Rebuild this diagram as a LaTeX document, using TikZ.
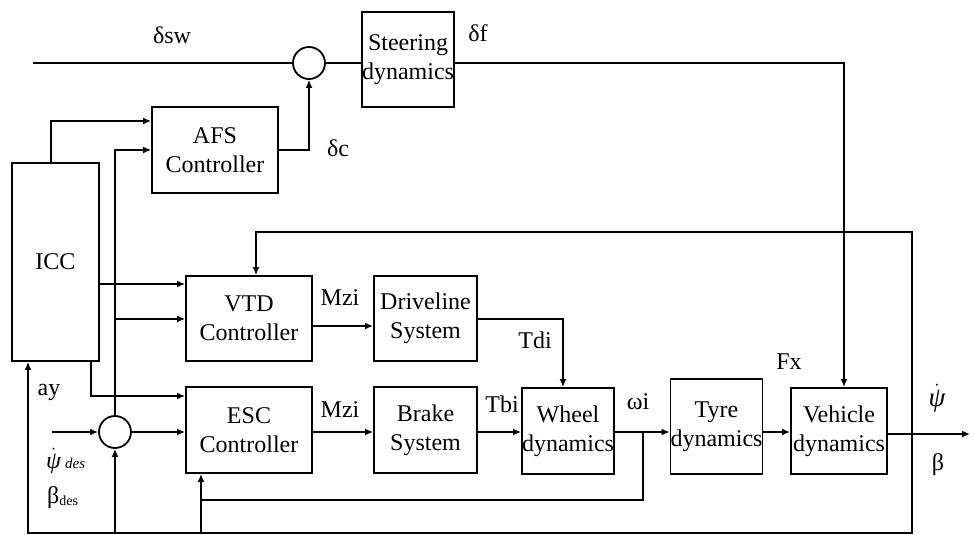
\documentclass[tikz,border=0pt]{standalone}
\usepackage{amsmath}
\usepackage{fontspec}
\setmainfont{Liberation Serif}
\usetikzlibrary{arrows.meta,calc}
\newcommand{\psidot}{\ensuremath{\dot{\text{\itshape ψ}}}}
\begin{document}
\begin{tikzpicture}[x=1pt,y=-1pt,
  blk/.style={draw,line width=1.8pt,inner sep=0pt,align=center,font=\fontsize{24}{29}\selectfont},
  sumc/.style={draw,circle,line width=1.8pt,minimum size=32pt,inner sep=0pt},
  lab/.style={font=\fontsize{24}{28}\selectfont,inner sep=0pt},
  wire/.style={line width=1.8pt},
  arr/.style={wire,-{Latex[length=8pt,width=7pt]}}]
\useasboundingbox (0,0) rectangle (974,535);
% blocks
\node[blk,minimum width=88pt,minimum height=95pt] (steer) at (408,59.5) {Steering\\dynamics};
\node[blk,minimum width=126pt,minimum height=86pt] (afs) at (215,150) {AFS\\Controller};
\node[blk,minimum width=87pt,minimum height=198pt] (icc) at (55.5,262) {ICC};
\node[blk,minimum width=126pt,minimum height=85pt] (vtd) at (249,318.5) {VTD\\Controller};
\node[blk,minimum width=126pt,minimum height=86pt] (esc) at (249,430) {ESC\\Controller};
\node[blk,minimum width=103pt,minimum height=85pt] (drive) at (425.5,318.5) {Driveline\\System};
\node[blk,minimum width=103pt,minimum height=86pt] (brake) at (425.5,430) {Brake\\System};
\node[blk,minimum width=88pt,minimum height=86pt] (wheel) at (568,431) {Wheel\\dynamics};
\node[blk,minimum width=87pt,minimum height=95pt] (tyre) at (716.5,426.5) {Tyre\\dynamics};
\node[blk,minimum width=96pt,minimum height=86pt] (veh) at (839,431) {Vehicle\\dynamics};
\node[sumc] (sum1) at (309,63) {};
\node[sumc] (sum2) at (115,432) {};
% free ends
\coordinate (in1) at (33,63);
\coordinate (in2) at (52,432);
\coordinate (out) at (970,434);
\coordinate (fb) at (912,434);
\coordinate (wi) at (643,432);
% steering path
\draw[wire] (in1) -- (sum1.west);
\draw[wire] (sum1.east) -- (sum1.east -| steer.west);
\draw[arr] (steer.east |- sum1) -- (844,63) -- (844,0 |- veh.north);
\draw[arr] (afs.east) -| (sum1.south);
% ICC to AFS
\draw[arr] (51,0 |- icc.north) -- (51,121) -- (0,121 -| afs.west);
\draw[arr] (sum2.north) -- (115,150) -- (afs.west);
\draw[arr] (115,319) -- (0,319 -| vtd.west);
\draw[arr] (icc.east |- 0,284) -- (0,284 -| vtd.west);
\draw[arr] (91,0 |- icc.south) -- (91,396) -- (0,396 -| esc.west);
\draw[arr] (in2) -- (sum2.west);
\draw[arr] (sum2.east) -- (esc.west |- sum2);
% main chain
\draw[arr] (vtd.east |- 0,326) -- (0,326 -| drive.west);
\draw[arr] (esc.east |- 0,432) -- (0,432 -| brake.west);
\draw[arr] (drive.east |- 0,319) -- (563,319) -- (563,0 |- wheel.north);
\draw[arr] (brake.east |- 0,432) -- (0,432 -| wheel.west);
\draw[arr] (wheel.east |- 0,432) -- (0,432 -| tyre.west);
\draw[arr] (tyre.east |- 0,432) -- (0,432 -| veh.west);
\draw[arr] (veh.east |- out) -- (out);
% feedback
\draw[arr] (fb) -- (912,232) -- (256,232) -- (256,0 |- vtd.north);
\draw[arr] (fb) -- (912,533) -- (28,533) -- (28,0 |- icc.south);
\draw[arr] (115,533) -- (sum2.south);
\draw[arr] (201,533) -- (201,0 |- esc.south);
\draw[wire] (wi) -- (643,500) -- (201,500);
% labels
\node[lab] (lsw) at (172,35) {δsw};
\node[lab] (lf) at (478,33) {δf};
\node[lab] (lc) at (338,148) {δc};
\node[lab] (lm1) at (340,298) {Mzi};
\node[lab] (lm2) at (340,410) {Mzi};
\node[lab] (ltd) at (535,340) {Tdi};
\node[lab] (ltb) at (502,404) {Tbi};
\node[lab] (lw) at (638,402) {ωi};
\node[lab] (lfx) at (789,362) {Fx};
\node[lab,font=\fontsize{27}{30}\selectfont] (lpsi) at (937,398) {\psidot};
\node[lab] (lb) at (938,465) {β};
\node[lab] (lay) at (49,392) {ay};
\node[lab,anchor=west] (lpd) at (46,461) {\psidot\,{\fontsize{15}{18}\selectfont\itshape des}};
\node[lab,anchor=west] (lbd) at (47,498) {β\raisebox{-2pt}{\fontsize{14}{16}\selectfont des}};
\end{tikzpicture}
\end{document}
